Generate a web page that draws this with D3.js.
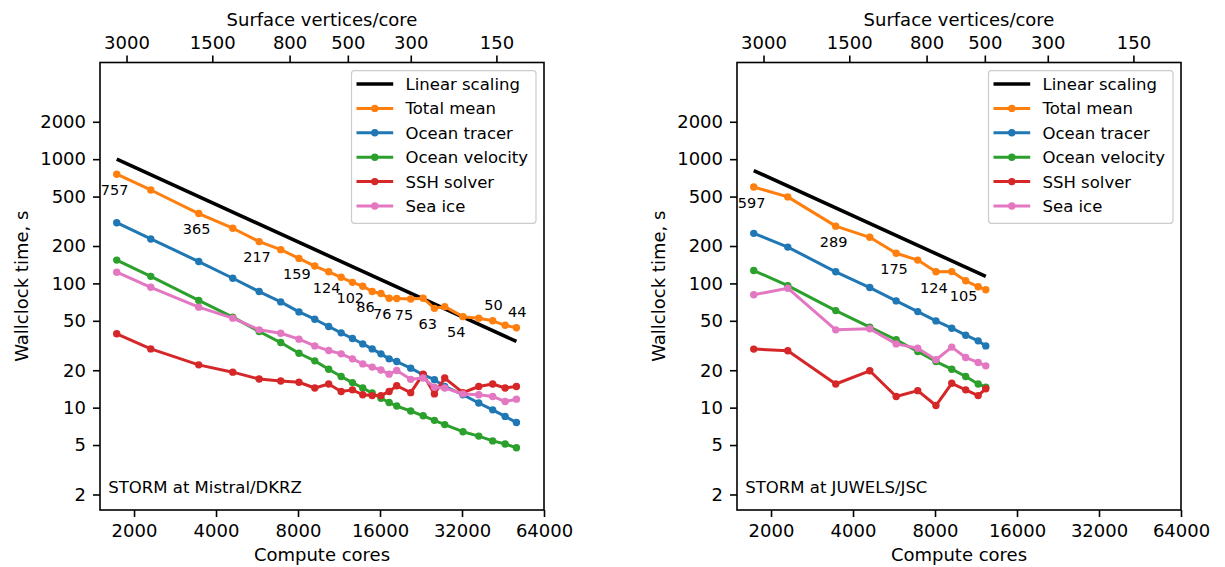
<!DOCTYPE html>
<html><head><meta charset="utf-8">
<script src="https://cdn.jsdelivr.net/npm/d3@7"></script>
<style>
body{margin:0;background:#fff}
svg{display:block}
text{font-family:"DejaVu Sans",sans-serif;fill:#000}
</style>
</head><body>
<svg id="chart" width="1225" height="567"></svg>
<script>
// ---------------- data ----------------
const seriesNames  = ["Total mean","Ocean tracer","Ocean velocity","SSH solver","Sea ice"];
const seriesColors = ["#ff7f0e","#1f77b4","#2ca02c","#d62728","#e377c2"];
const linearName = "Linear scaling";

const xTickValues = [2000,4000,8000,16000,32000,64000];
const yTickValues = [2,5,10,20,50,100,200,500,1000,2000];
const topTickLabels = [3000,1500,800,500,300,150];
const topTickCores  = [1877,3875,7450,12190,20750,42800];

// STORM at Mistral/DKRZ
const coresMistral = [1728,2304,3456,4608,5760,6912,8064,9216,10368,11520,12672,13824,14976,16128,17280,18432,20736,23040,25344,27648,32256,36864,41472,46080,50688];
const totalMistral    = [757,565,365,278,217,187,159,138,124,112,102,95,86,83,76,75.5,75,76,63,65,54,52.5,50,46,44];
const tracerMistral   = [308,228,150,110,86,71,59,51.5,45,40,36,32.6,29.7,27.1,24.7,23.5,20.8,18.4,16.8,14.8,12.7,10.9,9.6,8.5,7.6];
const velocityMistral = [154,114,73,53.5,41,33.4,27.4,23.8,20.4,17.8,15.9,14.4,13.1,11.9,11,10.3,9.4,8.6,7.9,7.3,6.4,5.9,5.4,5.1,4.75];
const sshMistral      = [39.3,29.7,22.1,19.3,17,16.4,16,14.4,15.5,13.5,13.9,12.7,12.5,12.5,13.5,15,13.2,18.6,12.9,17.3,13.2,14.8,15.5,14.4,14.8];
const seaiceMistral   = [123,93,64.4,52.5,42.3,39.7,35.6,31.4,28.8,27.1,24.7,22.5,21.2,20.1,18.6,19.9,16.9,17.3,14.6,14.4,12.9,12.7,12.3,11.2,11.7];
const linearMistral   = [1000,34.1];
const labelIdxMistral   = [0,2,4,6,8,10,12,14,16,18,20,22,24];
const labelAboveMistral = [false,false,false,false,false,false,false,false,false,false,false,true,true];

// STORM at JUWELS/JSC
const coresJuwels = [1728,2304,3456,4608,5760,6912,8064,9216,10368,11520,12288];
const totalJuwels    = [597,497,289,235,175,154,124,124.5,105,94,89];
const tracerJuwels   = [253,196,124,92.6,72.3,59.3,49.9,43.6,38.3,34.5,31.4];
const velocityJuwels = [127,96,60.4,44.4,35.2,28.3,23.5,20.4,17.8,15.5,14.6];
const sshJuwels      = [29.6,28.7,15.5,19.8,12.3,13.7,10.4,15.7,13.9,12.5,14.2];
const seaiceJuwels   = [81,91.5,42.3,43.1,32.6,30.1,24.3,30.7,25.3,23.1,21.7];
const linearJuwels   = [810,113.9];
const labelIdxJuwels   = [0,2,4,6,8];
const labelAboveJuwels = [false,false,false,false,false];

// ---------------- layout ----------------
const svg = d3.select("#chart");
const Y0 = 62.5, Y1 = 510;
const FONT_TICK = 18, FONT_LABEL = 18, FONT_LEG = 16.5, FONT_ANN = 14.5;

const panels = [
  {x0:100, x1:544, cores:coresMistral,
   series:[totalMistral,tracerMistral,velocityMistral,sshMistral,seaiceMistral],
   linear:linearMistral, labelIdx:labelIdxMistral, labelAbove:labelAboveMistral,
   title:"STORM at Mistral/DKRZ"},
  {x0:737, x1:1181, cores:coresJuwels,
   series:[totalJuwels,tracerJuwels,velocityJuwels,sshJuwels,seaiceJuwels],
   linear:linearJuwels, labelIdx:labelIdxJuwels, labelAbove:labelAboveJuwels,
   title:"STORM at JUWELS/JSC"}
];

function styleAxis(g){
  g.attr("font-size", FONT_TICK).attr("font-family", '"DejaVu Sans",sans-serif');
  g.select(".domain").remove();
  g.selectAll(".tick line").attr("stroke","#000").attr("stroke-width",1.6);
  g.selectAll(".tick text").attr("fill","#000");
}

panels.forEach(p => {
  const x = d3.scaleLog().base(2).domain([1500,64000]).range([p.x0,p.x1]);
  const y = d3.scaleLog().domain([1.5,6000]).range([Y1,Y0]);
  const g = svg.append("g");

  // axes
  g.append("g").attr("transform",`translate(0,${Y1})`)
    .call(d3.axisBottom(x).tickValues(xTickValues).tickFormat(d=>String(d)).tickSize(7).tickPadding(7))
    .call(styleAxis);
  g.append("g").attr("transform",`translate(0,${Y0})`)
    .call(d3.axisTop(x).tickValues(topTickCores).tickFormat((d,i)=>String(topTickLabels[i])).tickSize(7).tickPadding(7))
    .call(styleAxis);
  g.append("g").attr("transform",`translate(${p.x0},0)`)
    .call(d3.axisLeft(y).tickValues(yTickValues).tickFormat(d=>String(d)).tickSize(7).tickPadding(7))
    .call(styleAxis);

  // axis labels
  const cx = (p.x0+p.x1)/2;
  g.append("text").attr("x",cx).attr("y",561).attr("text-anchor","middle")
    .attr("font-size",FONT_LABEL).text("Compute cores");
  g.append("text").attr("x",cx).attr("y",26).attr("text-anchor","middle")
    .attr("font-size",FONT_LABEL).text("Surface vertices/core");
  g.append("text").attr("transform",`translate(${p.x0-72},${(Y0+Y1)/2}) rotate(-90)`)
    .attr("text-anchor","middle").attr("font-size",FONT_LABEL).text("Wallclock time, s");

  // clip
  const clipId = "clip"+p.x0;
  svg.append("clipPath").attr("id",clipId).append("rect")
    .attr("x",p.x0).attr("y",Y0).attr("width",p.x1-p.x0).attr("height",Y1-Y0);
  const plot = g.append("g").attr("clip-path",`url(#${clipId})`);

  // linear scaling line
  const lin = [[p.cores[0],p.linear[0]],[p.cores[p.cores.length-1],p.linear[1]]];
  plot.append("path").datum(lin)
    .attr("d", d3.line().x(d=>x(d[0])).y(d=>y(d[1])))
    .attr("fill","none").attr("stroke","#000").attr("stroke-width",3.6);

  // series
  p.series.forEach((vals,si) => {
    const pts = vals.map((v,i)=>[p.cores[i],v]);
    plot.append("path").datum(pts)
      .attr("d", d3.line().x(d=>x(d[0])).y(d=>y(d[1])))
      .attr("fill","none").attr("stroke",seriesColors[si]).attr("stroke-width",3)
      .attr("stroke-linejoin","round");
    plot.selectAll(null).data(pts).enter().append("circle")
      .attr("cx",d=>x(d[0])).attr("cy",d=>y(d[1])).attr("r",3.7)
      .attr("fill",seriesColors[si]);
  });

  // annotations on total mean
  p.labelIdx.forEach((idx,k) => {
    const px = x(p.cores[idx]), py = y(p.series[0][idx]);
    const above = p.labelAbove[k];
    g.append("text")
      .attr("x", above ? px-8.5 : px-16)
      .attr("y", above ? py-10.8 : py+20.7)
      .attr("font-size",FONT_ANN)
      .text(d3.format("d")(Math.round(p.series[0][idx])));
  });

  // panel title text
  g.append("text").attr("x",p.x0+8.3).attr("y",493).attr("font-size",FONT_LEG).text(p.title);

  // frame
  g.append("rect").attr("x",p.x0).attr("y",Y0).attr("width",p.x1-p.x0).attr("height",Y1-Y0)
    .attr("fill","none").attr("stroke","#000").attr("stroke-width",1.6);

  // legend
  const lw = 184.5, lh = 152.6;
  const bx = p.x1-8-lw, by = Y0+8.2;
  const leg = g.append("g");
  leg.append("rect").attr("x",bx).attr("y",by).attr("width",lw).attr("height",lh)
    .attr("rx",3).attr("fill","#fff").attr("fill-opacity",0.8)
    .attr("stroke","#cccccc").attr("stroke-width",1.2);
  const entries = [{name:linearName,color:"#000",w:3.6,marker:false}]
    .concat(seriesNames.map((n,i)=>({name:n,color:seriesColors[i],w:3,marker:true})));
  entries.forEach((e,i) => {
    const ry = by+13.3+i*24.4;
    leg.append("line").attr("x1",bx+5).attr("x2",bx+41.7).attr("y1",ry).attr("y2",ry)
      .attr("stroke",e.color).attr("stroke-width",e.w);
    if(e.marker) leg.append("circle").attr("cx",bx+23.3).attr("cy",ry).attr("r",3.7).attr("fill",e.color);
    leg.append("text").attr("x",bx+54).attr("y",ry).attr("dy","0.36em")
      .attr("font-size",FONT_LEG).text(e.name);
  });
});
</script>
</body></html>
